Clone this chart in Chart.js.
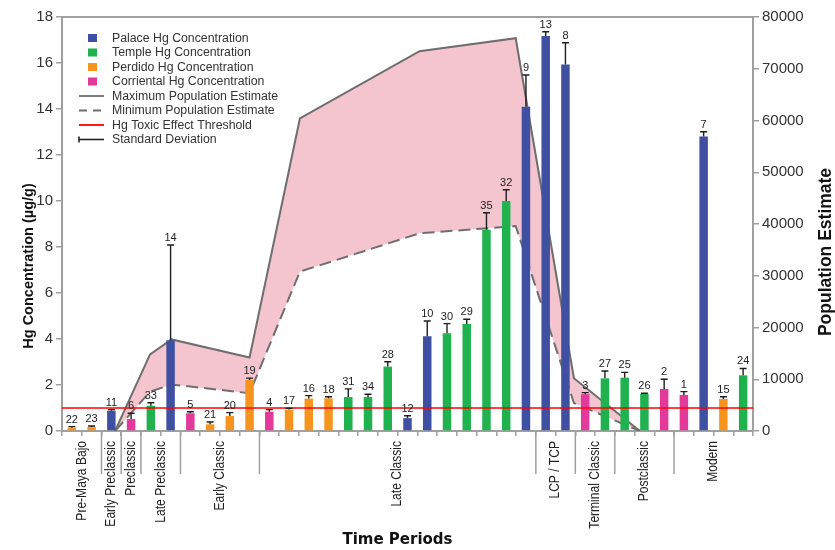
<!DOCTYPE html>
<html>
<head>
<meta charset="utf-8">
<script src="https://cdn.jsdelivr.net/npm/chart.js@4/dist/chart.umd.min.js"></script>
<style>
  html, body { margin: 0; padding: 0; background: #fff; }
  #wrap { width: 835px; height: 550px; position: relative; }
</style>
</head>
<body>
<div id="wrap"><canvas id="c" width="835" height="550"></canvas></div>
<script>
// Sample numbers, one bar each, ordered by time period
const sampleIds = ['22','23','11','6','33','14','5','21','20','19','4','17','16','18','31','34','28','12','10','30','29','35','32','9','13','8','3','27','25','26','2','1','7','15','24'];
// Site type of each sample
const sampleSite = ['perdido','perdido','palace','corriental','temple','palace','corriental','perdido','perdido','perdido',
                    'corriental','perdido','perdido','perdido','temple','temple','temple','palace','palace','temple',
                    'temple','temple','temple','palace','palace','palace','corriental','temple','temple','temple',
                    'corriental','corriental','palace','perdido','temple'];
// Mean Hg concentration (µg/g)
const hgMean = [0.14,0.17,0.88,0.52,1.10,3.95,0.77,0.29,0.65,2.22,
                0.84,0.93,1.41,1.42,1.48,1.48,2.80,0.56,4.12,4.25,
                4.65,8.75,10.00,14.10,17.17,15.94,1.60,2.29,2.32,1.61,
                1.83,1.57,12.80,1.39,2.42];
// Standard deviation (µg/g)
const hgSD = [0.05,0.05,0.05,0.25,0.13,4.14,0.07,0.10,0.15,0.08,
              0.09,0.06,0.13,0.07,0.35,0.12,0.21,0.10,0.66,0.42,
              0.21,0.74,0.49,1.38,0.19,0.94,0.07,0.32,0.23,0.03,
              0.42,0.14,0.21,0.10,0.30];
// Toxic effect threshold (µg/g)
const hgThreshold = 1.0;

// Time periods and how many samples fall in each
const periodNames = ['Pre-Maya Bajo','Early Preclassic','Preclassic','Late Preclassic','Early Classic','Late Classic','LCP / TCP','Terminal Classic','Postclassic','Modern'];
const periodSize  = [2,1,1,2,4,14,2,2,3,4];

// Population estimates, positioned along the sample sequence
const popX   = [2.19, 3.96, 5.05, 9.0, 11.55, 17.61, 22.48, 25.43, 28.77];
const popMax = [0, 14800, 17700, 14200, 60400, 73400, 75900, 10200, 0];
const popMin = [0, 7600, 9000, 7300, 30800, 38200, 39600, 5400, 0];

const sites = [
  { key: 'palace',     label: 'Palace Hg Concentration',     color: '#3f4fa1' },
  { key: 'temple',     label: 'Temple Hg Concentration',     color: '#1fb24f' },
  { key: 'perdido',    label: 'Perdido Hg Concentration',    color: '#f7941e' },
  { key: 'corriental', label: 'Corriental Hg Concentration', color: '#e2399b' }
];

const AXIS = '#a0a0a0';
const LINE_GREY = '#6e6e6e';
const FONT = "'Liberation Sans', Arial, sans-serif";
Chart.defaults.font.family = FONT;

const barSets = sites.map(s => ({
  type: 'bar',
  label: s.label,
  data: hgMean.map((v, i) => sampleSite[i] === s.key ? v : null),
  backgroundColor: s.color,
  xAxisID: 'x', yAxisID: 'y',
  grouped: false,
  barPercentage: 0.43,
  categoryPercentage: 1,
  order: 1
}));

const lineSets = [
  {
    type: 'line', label: 'Maximum Population Estimate',
    data: popX.map((x, i) => ({ x, y: popMax[i] })),
    xAxisID: 'xp', yAxisID: 'yp',
    borderColor: LINE_GREY, borderWidth: 2, pointRadius: 0, tension: 0,
    fill: '+1', backgroundColor: '#f5c5cf', order: 3
  },
  {
    type: 'line', label: 'Minimum Population Estimate',
    data: popX.map((x, i) => ({ x, y: popMin[i] })),
    xAxisID: 'xp', yAxisID: 'yp',
    borderColor: LINE_GREY, borderWidth: 2, borderDash: [12, 6], pointRadius: 0, tension: 0,
    fill: false, order: 2
  },
  {
    type: 'line', label: 'Hg Toxic Effect Threshold',
    data: [{ x: -0.5, y: hgThreshold }, { x: sampleIds.length - 0.5, y: hgThreshold }],
    xAxisID: 'xp', yAxisID: 'y',
    borderColor: '#ff0000', borderWidth: 1.5, pointRadius: 0, fill: false, order: 0
  }
];

const legendItems = [
  ...sites.map(s => ({ kind: 'box', color: s.color, text: s.label })),
  { kind: 'line', color: LINE_GREY, dash: [], text: 'Maximum Population Estimate' },
  { kind: 'line', color: LINE_GREY, dash: [8, 6], text: 'Minimum Population Estimate' },
  { kind: 'line', color: '#ff0000', dash: [], text: 'Hg Toxic Effect Threshold' },
  { kind: 'sd', color: '#222', text: 'Standard Deviation' }
];

const decor = {
  id: 'decor',
  afterDatasetsDraw(chart) {
    const { ctx, scales } = chart;
    const x = scales.x, y = scales.y;
    ctx.save();
    // standard deviation whiskers and sample numbers
    ctx.strokeStyle = '#1e1e1e';
    ctx.lineWidth = 1.4;
    ctx.fillStyle = '#222';
    ctx.font = '11px ' + FONT;
    ctx.textAlign = 'center';
    ctx.textBaseline = 'bottom';
    hgMean.forEach((m, i) => {
      const cx = x.getPixelForValue(i);
      const yb = y.getPixelForValue(m);
      const yt = y.getPixelForValue(m + hgSD[i]);
      ctx.beginPath();
      ctx.moveTo(cx, yb);
      ctx.lineTo(cx, yt);
      ctx.moveTo(cx - 3.5, yt);
      ctx.lineTo(cx + 3.5, yt);
      ctx.stroke();
      ctx.fillText(sampleIds[i], cx, yt - 1.5);
    });
    ctx.restore();
  },
  afterDraw(chart) {
    const { ctx, chartArea: a, scales } = chart;
    const xp = scales.xp;
    ctx.save();

    // top frame line
    ctx.strokeStyle = AXIS;
    ctx.lineWidth = 2;
    ctx.beginPath();
    ctx.moveTo(a.left, a.top);
    ctx.lineTo(a.right, a.top);
    ctx.stroke();

    // period dividers and names (condensed sans)
    ctx.lineWidth = 1.5;
    ctx.fillStyle = '#222';
    ctx.font = '14px ' + FONT;
    let start = 0;
    periodNames.forEach((name, k) => {
      const end = start + periodSize[k];
      if (k < periodNames.length - 1) {
        const px = xp.getPixelForValue(end - 0.5);
        ctx.beginPath();
        ctx.moveTo(px, a.bottom);
        ctx.lineTo(px, a.bottom + 43);
        ctx.stroke();
      }
      const cx = xp.getPixelForValue((start + end - 1) / 2);
      ctx.save();
      ctx.translate(cx, a.bottom + 10);
      ctx.rotate(-Math.PI / 2);
      ctx.scale(0.86, 1);
      ctx.textAlign = 'right';
      ctx.textBaseline = 'middle';
      ctx.fillText(name, 0, 0);
      ctx.restore();
      start = end;
    });

    // axis titles
    ctx.fillStyle = '#111';
    ctx.textAlign = 'center';
    ctx.textBaseline = 'middle';
    ctx.font = "bold 15px 'DejaVu Sans', sans-serif";
    ctx.fillText('Time Periods', (a.left + a.right) / 2 - 10, chart.height - 10);

    ctx.font = 'bold 14.5px ' + FONT;
    ctx.save();
    ctx.translate(29, (a.top + a.bottom) / 2 + 42);
    ctx.rotate(-Math.PI / 2);
    ctx.fillText('Hg Concentration (\u00b5g/g)', 0, 0);
    ctx.restore();

    ctx.font = 'bold 17.5px ' + FONT;
    ctx.save();
    ctx.translate(826, (a.top + a.bottom) / 2 + 28);
    ctx.rotate(-Math.PI / 2);
    ctx.fillText('Population Estimate', 0, 0);
    ctx.restore();

    // legend
    const lx = a.left + 17, tx = a.left + 50;
    let ly = a.top + 21;
    ctx.font = '12.3px ' + FONT;
    ctx.textAlign = 'left';
    legendItems.forEach(it => {
      if (it.kind === 'box') {
        ctx.fillStyle = it.color;
        ctx.fillRect(lx + 9, ly - 4, 9, 8);
      } else {
        ctx.strokeStyle = it.color;
        ctx.lineWidth = it.kind === 'sd' ? 1.6 : 1.8;
        ctx.setLineDash(it.dash || []);
        ctx.beginPath();
        ctx.moveTo(lx, ly);
        ctx.lineTo(lx + 25, ly);
        ctx.stroke();
        ctx.setLineDash([]);
        if (it.kind === 'sd') {
          ctx.beginPath();
          ctx.moveTo(lx, ly - 3);
          ctx.lineTo(lx, ly + 3);
          ctx.stroke();
        }
      }
      ctx.fillStyle = '#333';
      ctx.fillText(it.text, tx, ly + 0.5);
      ly += 14.5;
    });
    ctx.restore();
  }
};

new Chart(document.getElementById('c'), {
  type: 'bar',
  data: { labels: sampleIds, datasets: [...lineSets, ...barSets] },
  options: {
    responsive: false,
    animation: false,
    layout: { padding: { top: 17, left: 0, right: 0, bottom: 0 } },
    plugins: { legend: { display: false }, tooltip: { enabled: false } },
    scales: {
      x: {
        type: 'category',
        offset: true,
        grid: { offset: true, drawOnChartArea: false, drawTicks: true, tickLength: 5, color: AXIS, lineWidth: 1.5 },
        border: { color: AXIS, width: 2 },
        ticks: { display: false, autoSkip: false },
        afterFit(s) { s.height = 119; }
      },
      xp: {
        type: 'linear',
        position: 'top',
        min: -0.5,
        max: sampleIds.length - 0.5,
        offset: false,
        grid: { display: false },
        border: { display: false },
        ticks: { display: false },
        afterFit(s) { s.height = 0; }
      },
      y: {
        position: 'left',
        min: 0, max: 18,
        ticks: { stepSize: 2, color: '#333', font: { size: 15 }, padding: 3 },
        grid: { drawOnChartArea: false, tickLength: 6, color: AXIS, lineWidth: 1.5 },
        border: { color: AXIS, width: 2 },
        afterFit(s) { s.width = 62; }
      },
      yp: {
        position: 'right',
        min: 0, max: 80000,
        ticks: { stepSize: 10000, color: '#333', font: { size: 15 }, padding: 3, callback: v => String(v) },
        grid: { drawOnChartArea: false, tickLength: 6, color: AXIS, lineWidth: 1.5 },
        border: { color: AXIS, width: 2 },
        afterFit(s) { s.width = 82; }
      }
    }
  },
  plugins: [decor]
});
</script>
</body>
</html>
